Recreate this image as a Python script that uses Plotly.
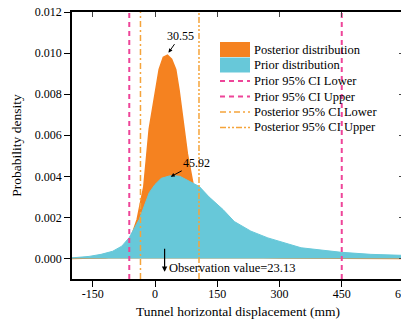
import plotly.graph_objects as go

# Posterior density
post_x = [-200, -150, -120, -100, -80, -60, -43, -35, -27, -14, -8, 2, 10, 20, 30, 40, 50, 58, 66, 70, 78, 90, 100, 110, 130, 150, 200, 300, 450, 600]
post_y = [0.0, 0.00002, 0.00004, 0.0001, 0.0003, 0.0009, 0.0019, 0.0027, 0.0035, 0.0063, 0.0070, 0.0082, 0.0092, 0.0098, 0.0099, 0.0097, 0.0092, 0.0082, 0.0070, 0.0063, 0.0051, 0.0038, 0.0027, 0.0018, 0.0008, 0.0004, 0.0001, 0.00003, 0.00001, 0.0]

# Prior density
prior_x = [-200, -159, -130, -102, -80, -62, -38, -22, -14, 0, 15, 35, 46, 60, 80, 107, 130, 164, 191, 231, 272, 352, 449, 520, 600]
prior_y = [0.00003, 0.0001, 0.0002, 0.00035, 0.0006, 0.00102, 0.0019, 0.0028, 0.0032, 0.0036, 0.0039, 0.00402, 0.00403, 0.0040, 0.0038, 0.0035, 0.0030, 0.00238, 0.0018, 0.00133, 0.0010, 0.00052, 0.0003, 0.0002, 0.00015]

prior_ci = [-62, 450]
post_ci = [-35, 106]
post_peak = (30.55, 0.0099)
prior_peak = (45.92, 0.00403)
observation = 23.13

x_ticks = [-150, 0, 150, 300, 450, 600]
y_ticks = [0.000, 0.002, 0.004, 0.006, 0.008, 0.010, 0.012]
x_range = [-200, 600]
y_range = [-0.001, 0.012]

legend_names = ["Posterior distribution", "Prior distribution", "Prior 95% CI Lower",
                "Prior 95% CI Upper", "Posterior 95% CI Lower", "Posterior 95% CI Upper"]

ORANGE = "#F58220"
CYAN = "#67C8D9"
PINK = "#EE4599"
LORANGE = "#F5A43B"
FONT = "Liberation Serif, Times New Roman, serif"

PINK_DASH = "5px,4px"
LOW_DASH = "6px,3px,2px,3px"
UP_DASH = "6px,2px,2px,2px,2px,2px"

fig = go.Figure()
fig.add_trace(go.Scatter(x=post_x, y=post_y, fill="tozeroy", mode="lines",
                         line=dict(color=ORANGE, width=1.5), fillcolor=ORANGE,
                         name=legend_names[0], showlegend=False))
fig.add_trace(go.Scatter(x=prior_x, y=prior_y, fill="tozeroy", mode="lines",
                         line=dict(color=CYAN, width=1), fillcolor=CYAN,
                         name=legend_names[1], showlegend=False))
fig.add_trace(go.Scatter(x=[prior_ci[0]] * 2, y=y_range, mode="lines",
                         line=dict(color=PINK, width=2, dash=PINK_DASH),
                         name=legend_names[2], showlegend=False))
fig.add_trace(go.Scatter(x=[prior_ci[1]] * 2, y=y_range, mode="lines",
                         line=dict(color=PINK, width=2, dash=PINK_DASH),
                         name=legend_names[3], showlegend=False))
fig.add_trace(go.Scatter(x=[post_ci[0]] * 2, y=y_range, mode="lines",
                         line=dict(color=LORANGE, width=1.5, dash=LOW_DASH),
                         name=legend_names[4], showlegend=False))
fig.add_trace(go.Scatter(x=[post_ci[1]] * 2, y=y_range, mode="lines",
                         line=dict(color=LORANGE, width=1.5, dash=UP_DASH),
                         name=legend_names[5], showlegend=False))
# helper trace for mirrored axes
fig.add_trace(go.Scatter(x=x_range, y=y_range, xaxis="x2", yaxis="y2", mode="lines",
                         line=dict(width=0), showlegend=False, hoverinfo="skip"))

axis_common = dict(showgrid=False, zeroline=False, showline=True, linecolor="black",
                   linewidth=1.5, ticks="outside", ticklen=6, tickwidth=1.2,
                   tickcolor="black", ticklabeloverflow="allow", automargin=False,
                   tickfont=dict(family=FONT, size=12, color="black"))

fig.update_layout(
    width=409, height=316,
    margin=dict(l=64, r=13, t=4, b=45, autoexpand=False),
    paper_bgcolor="white", plot_bgcolor="white",
    font=dict(family=FONT, size=12, color="black"),
    xaxis=dict(range=x_range, tickvals=x_ticks, ticktext=[str(v) for v in x_ticks],
               ticklabelstandoff=-3,
               title=dict(text="Tunnel horizontal displacement (mm)", font=dict(family=FONT, size=13.5), standoff=6),
               **axis_common),
    yaxis=dict(range=y_range, tickvals=y_ticks, ticktext=[f"{v:.3f}" for v in y_ticks],
               title=dict(text="Probability density", font=dict(family=FONT, size=13.5), standoff=10),
               **axis_common),
    xaxis2=dict(range=x_range, overlaying="x", side="top", tickvals=x_ticks,
                showticklabels=False, ticks="inside", ticklen=5, tickwidth=1.2, automargin=False,
                showgrid=False, zeroline=False, showline=True, linecolor="black", linewidth=1.5),
    yaxis2=dict(range=y_range, overlaying="y", side="right", tickvals=y_ticks,
                showticklabels=False, ticks="inside", ticklen=5, tickwidth=1.2, automargin=False,
                showgrid=False, zeroline=False, showline=True, linecolor="black", linewidth=1.5),
    showlegend=False,
)

# manual legend (window pixel -> paper fraction of the plot area)
def px(x):
    return (x - 72) / 332.0

def py(y):
    return (279 - y) / 267.0

rows = [49.5, 65, 81, 96.5, 112, 127.5]
sx0, sx1, tx = 220, 250, 252
fig.add_shape(type="rect", xref="paper", yref="paper", x0=px(sx0), x1=px(sx1),
              y0=py(57), y1=py(42), fillcolor=ORANGE, line=dict(width=0))
fig.add_shape(type="rect", xref="paper", yref="paper", x0=px(sx0), x1=px(sx1),
              y0=py(72.5), y1=py(57.5), fillcolor=CYAN, line=dict(width=0))
line_styles = [(PINK, 2, PINK_DASH), (PINK, 2, PINK_DASH), (LORANGE, 1.5, LOW_DASH), (LORANGE, 1.5, UP_DASH)]
for (col, w, d), r in zip(line_styles, rows[2:]):
    fig.add_shape(type="line", xref="paper", yref="paper", x0=px(sx0), x1=px(sx1),
                  y0=py(r), y1=py(r), line=dict(color=col, width=w, dash=d))
for name, r in zip(legend_names, rows):
    fig.add_annotation(xref="paper", yref="paper", x=px(tx), y=py(r), text=name,
                       showarrow=False, xanchor="left", yanchor="middle",
                       font=dict(family=FONT, size=12.5, color="black"))

fig.add_annotation(x=post_peak[0] + 2, y=post_peak[1] + 0.00012, text=f"{post_peak[0]:.2f}",
                   showarrow=True, arrowhead=2, arrowsize=0.8, arrowwidth=1, arrowcolor="black",
                   ax=12, ay=-17, font=dict(family=FONT, size=12))
fig.add_annotation(x=prior_peak[0] - 8, y=prior_peak[1] - 0.00005, text=f"{prior_peak[0]:.2f}",
                   showarrow=True, arrowhead=2, arrowsize=0.8, arrowwidth=1, arrowcolor="black",
                   ax=26, ay=-14, font=dict(family=FONT, size=12))
fig.add_annotation(x=observation, y=-0.00065, xref="x", yref="y",
                   ax=observation, ay=0.00055, axref="x", ayref="y",
                   showarrow=True, arrowhead=2, arrowsize=0.9, arrowwidth=1.2, arrowcolor="black",
                   text="")
fig.add_annotation(x=observation + 5, y=-0.00045, text=f"Observation value={observation}",
                   showarrow=False, xanchor="left", yanchor="middle",
                   font=dict(family=FONT, size=12.5))

fig.write_html("out.html")
